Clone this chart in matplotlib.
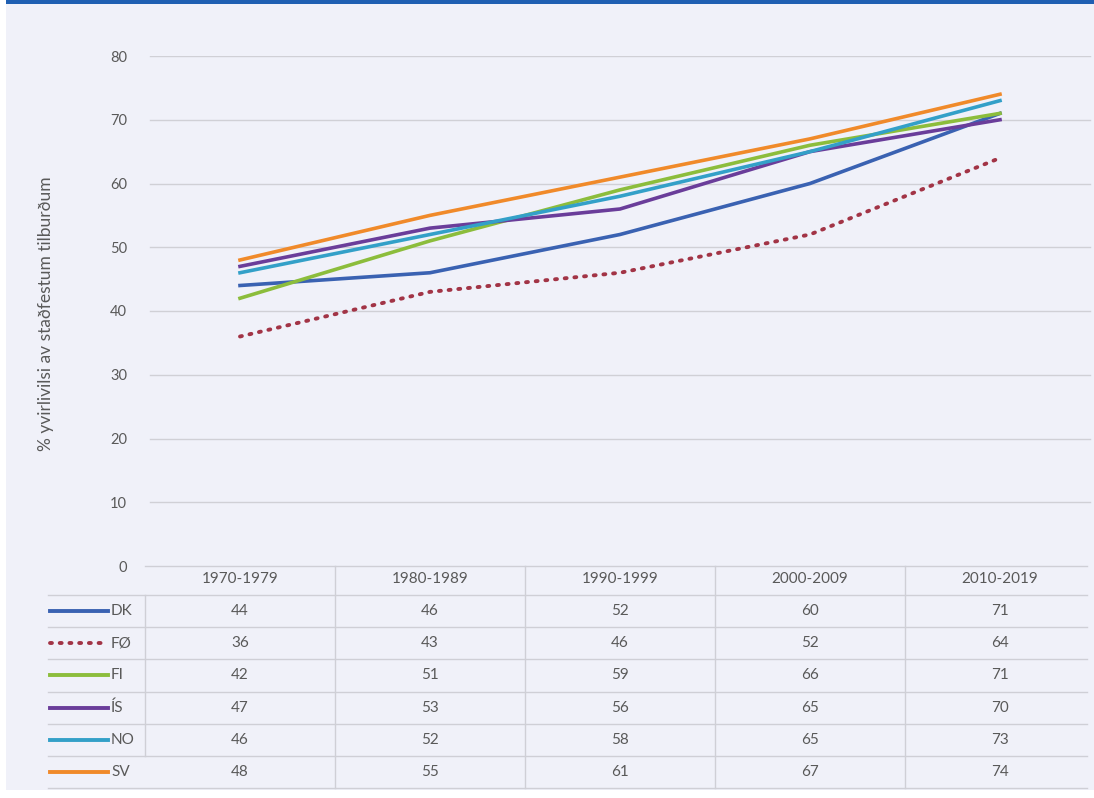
"""Share of pregnancies by decade in the Nordic countries, line chart with data table."""

import matplotlib

matplotlib.use("Agg")

import matplotlib.pyplot as plt
from matplotlib.transforms import blended_transform_factory


PERIODS = ["1970-1979", "1980-1989", "1990-1999", "2000-2009", "2010-2019"]
COUNTRIES = ["DK", "FØ", "FI", "ÍS", "NO", "SV"]

DK = [44, 46, 52, 60, 71]
FO = [36, 43, 46, 52, 64]
FI = [42, 51, 59, 66, 71]
IS = [47, 53, 56, 65, 70]
NO = [46, 52, 58, 65, 73]
SV = [48, 55, 61, 67, 74]

SERIES = [DK, FO, FI, IS, NO, SV]
COLORS = ["#3a62b2", "#a23446", "#8cbd3c", "#6a3d9a", "#33a0c8", "#f08a2a"]
STYLES = ["-", ":", "-", "-", "-", "-"]

Y_LABEL = "% yvirlivilsi av staðfestum tilburðum"
Y_TICKS = [0, 10, 20, 30, 40, 50, 60, 70, 80]

W, H = 1094, 798
BG = "#f0f1f9"
TEXT = "#595959"
GRID = "#d0d0d6"
DOTS = (0, (0.5, 2.0))

plt.rcParams["font.family"] = ["Lato", "DejaVu Sans"]


def fy(px):
    """Pixel row (from top) to figure fraction."""
    return 1 - px / H


fig = plt.figure(figsize=(W / 100, H / 100), dpi=100)
fig.patch.set_facecolor("white")

# panel background and blue top rule
fig.add_artist(plt.Rectangle((6 / W, 0.01), 1, fy(3) - 0.01, transform=fig.transFigure,
                             facecolor=BG, edgecolor="none", zorder=-10))
fig.add_artist(plt.Rectangle((6 / W, fy(4)), 1, 4 / H, transform=fig.transFigure,
                             facecolor="#1f5fb2", edgecolor="none", zorder=-10))

ax = fig.add_axes([145 / W, fy(566), 950 / W, (566 - 56) / H])
ax.set_facecolor("none")
ax.set_zorder(2)
x = list(range(len(PERIODS)))

for name, values, color, style in zip(COUNTRIES, SERIES, COLORS, STYLES):
    if style == ":":
        ax.plot(x, values, color=color, linestyle=DOTS, linewidth=2.8,
                dash_capstyle="round", label=name, zorder=3)
    else:
        ax.plot(x, values, color=color, linewidth=2.6, label=name, zorder=3)

ax.set_xlim(-0.5, 4.5)
ax.set_ylim(0, 80)
ax.set_yticks(Y_TICKS)
ax.set_yticklabels([str(t) for t in Y_TICKS], color=TEXT, fontsize=10.5)
ax.set_xticks([])
ax.tick_params(axis="y", length=0, pad=13)
for spine in ax.spines.values():
    spine.set_visible(False)
for t in Y_TICKS[1:]:
    ax.axhline(t, xmin=0.005, xmax=0.995, color=GRID, linewidth=1, zorder=1)

fig.text(46 / W, fy(314), Y_LABEL, rotation=90, ha="center", va="center",
         color=TEXT, fontsize=12.5)

# data table below the plot, columns aligned to the categories
tr = blended_transform_factory(ax.transData, fig.transFigure)
line_kw = dict(color="#cfcfd6", linewidth=1, transform=tr, clip_on=False)
left_x = -0.5 - 97 / 190
right_x = 4.46

header_y = 579
row_tops = [595 + 32.2 * k for k in range(7)]
fig.add_artist(plt.Line2D([-0.5, right_x], [fy(566), fy(566)], **line_kw))
for top in row_tops:
    fig.add_artist(plt.Line2D([left_x, right_x], [fy(top), fy(top)], **line_kw))
for i in range(len(PERIODS)):
    fig.add_artist(plt.Line2D([i + 0.5, i + 0.5], [fy(566), fy(row_tops[-1])], **line_kw))
fig.add_artist(plt.Line2D([-0.5, -0.5], [fy(row_tops[0]), fy(row_tops[-2])], **line_kw))

for i, period in enumerate(PERIODS):
    fig.text(i, fy(header_y), period, transform=tr, ha="center", va="center",
             color=TEXT, fontsize=11)

for r, (name, values, color, style) in enumerate(zip(COUNTRIES, SERIES, COLORS, STYLES)):
    yc = fy(row_tops[r] + 16)
    x0, x1 = -0.5 - 95 / 190, -0.5 - 37 / 190
    if style == ":":
        fig.add_artist(plt.Line2D([x0, x1], [yc, yc], color=color, linewidth=2.8,
                                  linestyle=DOTS, dash_capstyle="round", transform=tr))
    else:
        fig.add_artist(plt.Line2D([x0, x1], [yc, yc], color=color, linewidth=2.8,
                                  transform=tr))
    fig.text(-0.5 - 34 / 190, yc, name, transform=tr, ha="left", va="center",
             color=TEXT, fontsize=11)
    for i, v in enumerate(values):
        fig.text(i, yc, str(v), transform=tr, ha="center", va="center",
                 color=TEXT, fontsize=11)

fig.savefig("out.png", dpi=100, facecolor=fig.get_facecolor())
